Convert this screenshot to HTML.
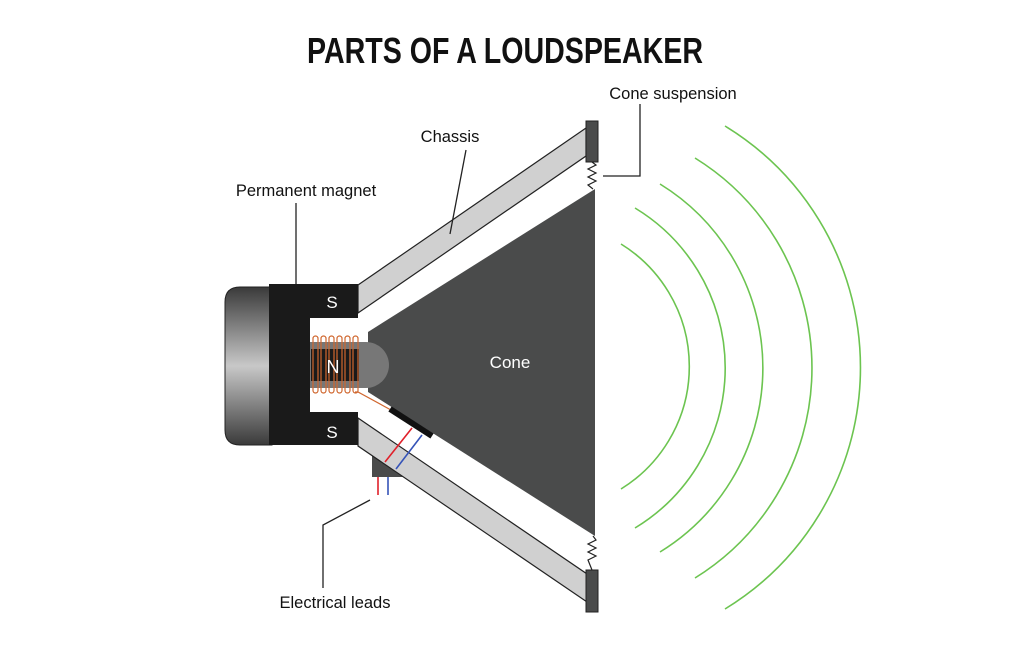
<!DOCTYPE html>
<html><head><meta charset="utf-8"><style>
html,body{margin:0;padding:0;background:#fff;}
svg{display:block;}
text{font-family:"Liberation Sans",sans-serif;}
</style></head><body>
<svg width="1024" height="655" viewBox="0 0 1024 655" xmlns="http://www.w3.org/2000/svg">
<defs>
<linearGradient id="cyl" x1="0" y1="0" x2="0" y2="1">
<stop offset="0" stop-color="#3a3a3a"/>
<stop offset="0.5" stop-color="#c8c8c8"/>
<stop offset="1" stop-color="#3a3a3a"/>
</linearGradient>
</defs>
<text x="505" y="63" text-anchor="middle" font-size="36" font-weight="bold" textLength="396" lengthAdjust="spacingAndGlyphs" fill="#111">PARTS OF A LOUDSPEAKER</text>

<!-- chassis bars -->
<polygon points="358,285 586,128 586,156 358,313" fill="#d0d0d0" stroke="#222" stroke-width="1.2"/>
<rect x="372" y="453" width="36" height="24" fill="#4a4b4b"/>
<polygon points="358,418 590,576 590,604 358,446" fill="#d0d0d0" stroke="#222" stroke-width="1.2"/>
<!-- holders -->
<rect x="586" y="121" width="12" height="41" fill="#4a4b4b" stroke="#222" stroke-width="1"/>
<rect x="586" y="570" width="12" height="42" fill="#4a4b4b" stroke="#222" stroke-width="1"/>
<!-- springs -->
<polyline points="592,162 596,165 588,169 596,173 588,177 596,181 588,185 593,189" fill="none" stroke="#222" stroke-width="1.2"/>
<polyline points="593,536 596,540 588,544 596,548 588,552 596,556 588,560 592,570" fill="none" stroke="#222" stroke-width="1.2"/>
<!-- cone -->
<polygon points="368,332 595,189 595,536 368,392" fill="#4a4b4b"/>
<text x="510" y="368" text-anchor="middle" font-size="17" fill="#fff">Cone</text>

<!-- back cylinder -->
<path d="M240,287 H272 V445 H240 Q225,445 225,430 V302 Q225,287 240,287 Z" fill="url(#cyl)" stroke="#222" stroke-width="1"/>
<!-- pole piece -->
<path d="M269,284 H358 V318 H310 V412 H358 V445 H269 Z" fill="#1a1a1a"/>
<text x="332" y="308" text-anchor="middle" font-size="17" fill="#fff">S</text>
<text x="332" y="438" text-anchor="middle" font-size="17" fill="#fff">S</text>
<!-- N rod -->
<path d="M310,342 H366 A23,23 0 0 1 366,388 H310 Z" fill="#777"/>
<rect x="311" y="349" width="48" height="32" fill="#1a1a1a"/>
<!-- coil -->
<g fill="none" stroke="#d0672f" stroke-width="1.2">
<rect x="313" y="336" width="5" height="57" rx="2.5"/>
<rect x="321" y="336" width="5" height="57" rx="2.5"/>
<rect x="329" y="336" width="5" height="57" rx="2.5"/>
<rect x="337" y="336" width="5" height="57" rx="2.5"/>
<rect x="345" y="336" width="5" height="57" rx="2.5"/>
<rect x="353" y="336" width="5" height="57" rx="2.5"/>
<polyline points="355,392 358,392 391,410"/>
</g>
<text x="333" y="373" text-anchor="middle" font-size="18" fill="#fff">N</text>
<!-- leads -->
<line x1="390" y1="409" x2="432" y2="436" stroke="#111" stroke-width="6"/>
<line x1="412" y1="428" x2="385" y2="462" stroke="#e0202a" stroke-width="1.6"/>
<line x1="422" y1="435" x2="396" y2="469" stroke="#3553b8" stroke-width="1.6"/>
<line x1="378" y1="477" x2="378" y2="495" stroke="#e0202a" stroke-width="1.6"/>
<line x1="388" y1="477" x2="388" y2="495" stroke="#3553b8" stroke-width="1.6"/>

<!-- leader lines -->
<g fill="none" stroke="#222" stroke-width="1.3">
<line x1="296" y1="203" x2="296" y2="284"/>
<line x1="466" y1="150" x2="450" y2="234"/>
<polyline points="640,104 640,176 603,176"/>
<polyline points="370,500 323,525 323,588"/>
</g>
<text x="306" y="196" text-anchor="middle" font-size="16.5" fill="#111">Permanent magnet</text>
<text x="450" y="142" text-anchor="middle" font-size="16.5" fill="#111">Chassis</text>
<text x="673" y="99" text-anchor="middle" font-size="16.5" fill="#111">Cone suspension</text>
<text x="335" y="608" text-anchor="middle" font-size="16.5" fill="#111">Electrical leads</text>

<!-- sound waves -->
<g fill="none" stroke="#6cc450" stroke-width="1.6">
<path d="M621,244 A144,144 0 0 1 621,489"/>
<path d="M635,208 A187,187 0 0 1 635,528"/>
<path d="M660,184 A216,216 0 0 1 660,552"/>
<path d="M695,158 A247,247 0 0 1 695,578"/>
<path d="M725,126 A283,283 0 0 1 725,609"/>
</g>
</svg>
</body></html>
